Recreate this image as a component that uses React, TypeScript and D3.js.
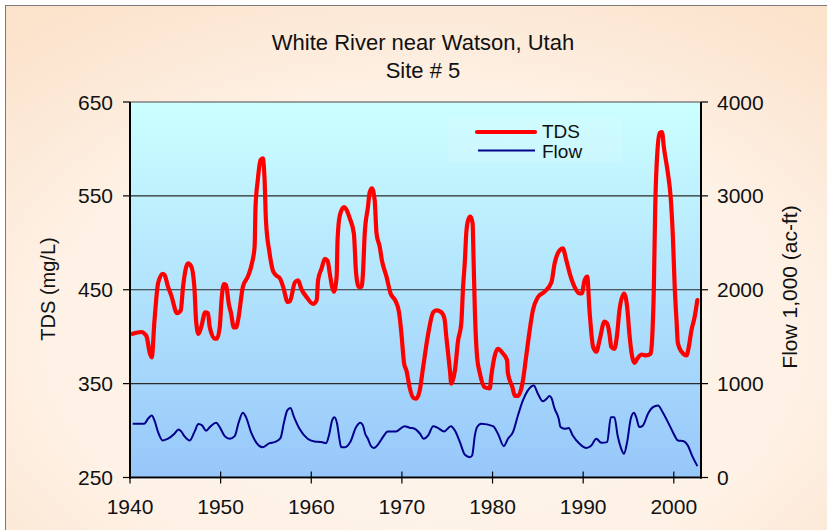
import React from "react";
import * as d3 from "d3";

const titleLines = ["White River near Watson, Utah", "Site # 5"];
const leftTicks = [250, 350, 450, 550, 650];
const rightTicks = [0, 1000, 2000, 3000, 4000];
const yearTicks = [1940, 1950, 1960, 1970, 1980, 1990, 2000];
const seriesNames = ["TDS", "Flow"];
const leftTitle = "TDS (mg/L)";
const rightTitle = "Flow 1,000 (ac-ft)";

const tdsYears = [
  1940.3, 1941.25, 1941.8, 1942.2, 1942.4, 1942.7, 1943.1, 1943.6, 1943.8, 1944.2, 1944.55, 1945.2, 1945.6, 1945.85,
  1946.4, 1946.75, 1947.1, 1947.3, 1947.55, 1947.85, 1948.3, 1948.6, 1948.8, 1949.35, 1949.6, 1949.9, 1950.1, 1950.35,
  1950.6, 1950.9, 1951.15, 1951.45, 1951.7, 1951.95, 1952.45, 1953.0, 1953.45, 1953.75, 1953.85, 1954.1, 1954.4, 1954.65,
  1954.85, 1955.0, 1955.4, 1955.75, 1956.05, 1956.55, 1956.9, 1957.4, 1957.65, 1958.2, 1958.55, 1958.9, 1959.5, 1960.2,
  1960.6, 1960.75, 1961.15, 1961.5, 1961.8, 1962.05, 1962.3, 1962.5, 1962.8, 1962.9, 1963.15, 1963.6, 1963.9, 1964.25,
  1964.7, 1964.95, 1965.25, 1965.55, 1965.7, 1965.9, 1966.25, 1966.45, 1966.7, 1967.0, 1967.2, 1967.55, 1967.8, 1968.3,
  1968.75, 1969.3, 1969.7, 1969.95, 1970.25, 1970.5, 1970.85, 1971.25, 1971.6, 1971.95, 1972.35, 1972.9, 1973.45, 1973.8,
  1974.35, 1974.7, 1974.9, 1975.3, 1975.45, 1975.85, 1976.2, 1976.55, 1976.75, 1976.95, 1977.1, 1977.3, 1977.55, 1977.8,
  1977.9, 1978.05, 1978.3, 1978.6, 1979.15, 1979.7, 1979.85, 1980.25, 1980.6, 1981.15, 1981.6, 1981.7, 1982.2, 1982.45,
  1982.8, 1983.35, 1983.7, 1984.1, 1984.45, 1985.0, 1985.75, 1986.5, 1986.85, 1987.4, 1987.75, 1988.15, 1988.5, 1989.05,
  1989.6, 1989.85, 1990.15, 1990.45, 1990.7, 1991.1, 1991.45, 1991.8, 1992.35, 1992.65, 1992.9, 1993.1, 1993.45, 1993.75,
  1994.0, 1994.5, 1994.85, 1995.1, 1995.35, 1995.65, 1996.0, 1996.45, 1996.95, 1997.45, 1997.6, 1997.8, 1997.95, 1998.2,
  1998.45, 1998.7, 1998.9, 1999.35, 1999.65, 1999.9, 2000.1, 2000.3, 2000.45, 2000.85, 2001.4, 2001.65, 2001.95, 2002.3,
  2002.6,
];
const tdsValues = [
  403, 405, 401, 382, 378, 417, 457, 467, 466, 453, 444, 425, 428, 453,
  478, 475, 453, 416, 403, 410, 426, 425, 410, 398, 398, 410, 439, 456,
  455, 435, 425, 410, 410, 419, 453, 464, 478, 496, 538, 567, 588, 590,
  567, 524, 489, 471, 466, 462, 453, 437, 438, 458, 460, 451, 442, 435,
  439, 460, 473, 483, 481, 467, 453, 448, 464, 503, 529, 538, 535, 526,
  510, 467, 453, 453, 467, 510, 538, 554, 558, 545, 510, 496, 481, 464,
  446, 438, 425, 403, 371, 364, 346, 335, 334, 342, 368, 403, 426, 428,
  426, 419, 400, 364, 350, 364, 396, 414, 453, 481, 510, 524, 528, 521,
  485, 428, 378, 361, 346, 345, 357, 380, 387, 382, 375, 361, 346, 337,
  337, 353, 378, 407, 428, 442, 448, 458, 478, 492, 494, 481, 468, 453,
  446, 446, 460, 464, 428, 389, 384, 396, 416, 414, 403, 389, 387, 403,
  428, 446, 432, 403, 382, 372, 377, 381, 380, 382, 396, 453, 538, 599,
  617, 618, 602, 574, 549, 506, 453, 417, 393, 384, 380, 389, 407, 421,
  439,
];

const flowYears = [
  1940.3, 1941.55, 1942.05, 1942.4, 1942.7, 1943.1, 1943.6, 1944.2, 1944.9, 1945.35, 1945.65, 1946.0, 1946.6, 1947.1,
  1947.55, 1947.95, 1948.4, 1948.9, 1949.5, 1949.9, 1950.45, 1951.0, 1951.55, 1952.0, 1952.45, 1952.8, 1953.35, 1953.9,
  1954.65, 1955.4, 1955.95, 1956.6, 1957.0, 1957.35, 1957.7, 1958.1, 1958.7, 1959.6, 1960.35, 1961.1, 1961.65, 1961.95,
  1962.3, 1962.55, 1962.85, 1963.1, 1963.3, 1963.75, 1964.3, 1964.95, 1965.4, 1965.7, 1965.95, 1966.25, 1966.55, 1966.9,
  1967.55, 1967.9, 1968.45, 1969.35, 1970.3, 1970.85, 1971.4, 1972.0, 1972.4, 1972.9, 1973.45, 1974.0, 1974.65, 1975.4,
  1975.85, 1976.4, 1976.95, 1977.5, 1977.75, 1978.05, 1978.3, 1978.75, 1980.05, 1980.6, 1981.25, 1981.7, 1982.25, 1982.8,
  1983.35, 1983.9, 1984.55, 1985.0, 1985.55, 1985.9, 1986.3, 1986.5, 1986.85, 1987.3, 1987.5, 1987.95, 1988.4, 1988.85,
  1989.6, 1990.35, 1990.9, 1991.45, 1992.0, 1992.65, 1993.05, 1993.45, 1993.8, 1994.2, 1994.5, 1994.85, 1995.25, 1995.6,
  1995.85, 1996.2, 1996.6, 1997.15, 1997.7, 1998.25, 1998.8, 1999.35, 1999.9, 2000.45, 2001.1, 2001.55, 2002.0, 2002.6,
];
const flowValues = [
  573, 573, 633, 661, 608, 483, 395, 413, 466, 512, 491, 441, 395, 483,
  569, 555, 498, 547, 583, 537, 441, 413, 441, 590, 690, 643, 483, 377,
  323, 366, 377, 420, 590, 715, 740, 643, 519, 413, 384, 377, 366, 448,
  608, 643, 573, 413, 323, 323, 377, 537, 583, 555, 466, 413, 341, 313,
  377, 430, 491, 491, 547, 530, 519, 466, 413, 448, 547, 526, 491, 547,
  501, 377, 242, 217, 235, 448, 537, 573, 547, 466, 334, 413, 483, 661,
  821, 928, 981, 893, 811, 832, 867, 846, 733, 626, 537, 519, 526, 448,
  359, 313, 341, 413, 370, 377, 643, 643, 448, 306, 253, 377, 626, 690,
  643, 537, 555, 679, 750, 768, 690, 590, 483, 395, 387, 341, 235, 121,
];

const W = 827;
const H = 530;
const plot = { left: 130, right: 701, top: 102, bottom: 477.5 };
const FONT = "'Liberation Sans', Arial, sans-serif";

export default function App() {
  const x = d3.scaleLinear().domain([1940, 2003]).range([plot.left, plot.right]);
  const yL = d3.scaleLinear().domain([250, 650]).range([plot.bottom, plot.top]);
  const yR = d3.scaleLinear().domain([0, 4000]).range([plot.bottom, plot.top]);

  const tdsLine = d3
    .line<number>()
    .x((_, i) => x(tdsYears[i]))
    .y((v) => yL(v))
    .curve(d3.curveMonotoneX)(tdsValues) as string;
  const flowLine = d3
    .line<number>()
    .x((_, i) => x(flowYears[i]))
    .y((v) => yR(v))
    .curve(d3.curveMonotoneX)(flowValues) as string;

  return (
    <svg
      width={W}
      height={H}
      style={{ position: "absolute", left: 0, top: 0, fontFamily: FONT }}
    >
      <defs>
        <radialGradient id="bgGrad" cx="50%" cy="62%" r="75%">
          <stop offset="0%" stopColor="#FFF7F0" />
          <stop offset="60%" stopColor="#FEF1E5" />
          <stop offset="100%" stopColor="#FBE2CB" />
        </radialGradient>
        <linearGradient id="plotGrad" x1="0" y1="0" x2="0" y2="1">
          <stop offset="0%" stopColor="#CCFFFF" />
          <stop offset="100%" stopColor="#97C7FA" />
        </linearGradient>
      </defs>
      <rect x={0} y={0} width={W} height={H} fill="#FFFFFF" />
      <rect x={5.5} y={5.5} width={W + 10} height={H + 10} fill="url(#bgGrad)" stroke="#7A7A7A" strokeWidth={1} />

      {titleLines.map((t, i) => (
        <text key={t} x={423} y={50 + i * 28} textAnchor="middle" fontSize={22} fill="#111">
          {t}
        </text>
      ))}

      <rect
        x={plot.left}
        y={plot.top}
        width={plot.right - plot.left}
        height={plot.bottom - plot.top}
        fill="url(#plotGrad)"
      />

      {leftTicks.slice(1, -1).map((t) => (
        <line key={t} x1={plot.left} x2={plot.right} y1={yL(t)} y2={yL(t)} stroke="#2A2A2A" strokeWidth={1.2} />
      ))}
      <line x1={plot.left} x2={plot.right} y1={plot.top} y2={plot.top} stroke="#808080" strokeWidth={1.5} />

      <path d={flowLine} fill="none" stroke="#00008B" strokeWidth={2} strokeLinejoin="round" />
      <path d={tdsLine} fill="none" stroke="#FF0000" strokeWidth={4.2} strokeLinejoin="round" strokeLinecap="round" />

      {/* axes */}
      <line x1={plot.left} x2={plot.left} y1={plot.top} y2={plot.bottom + 1} stroke="#000" strokeWidth={2} />
      <line x1={plot.right} x2={plot.right} y1={plot.top} y2={plot.bottom + 1} stroke="#000" strokeWidth={2} />
      <line x1={plot.left - 1} x2={plot.right + 1} y1={plot.bottom} y2={plot.bottom} stroke="#000" strokeWidth={2} />
      <line x1={plot.left + 1} x2={plot.right - 1} y1={plot.bottom + 1.8} y2={plot.bottom + 1.8} stroke="#FFFFFF" strokeWidth={1} opacity={0.8} />

      {leftTicks.map((t) => (
        <g key={t}>
          <line x1={plot.left - 7} x2={plot.left} y1={yL(t)} y2={yL(t)} stroke="#000" strokeWidth={1.2} />
          <text x={113} y={yL(t)} dy="0.36em" textAnchor="end" fontSize={21} fill="#111">
            {t}
          </text>
        </g>
      ))}
      {rightTicks.map((t) => (
        <g key={t}>
          <line x1={plot.right} x2={plot.right + 7} y1={yR(t)} y2={yR(t)} stroke="#000" strokeWidth={1.2} />
          <text x={717} y={yR(t)} dy="0.36em" textAnchor="start" fontSize={21} fill="#111">
            {t}
          </text>
        </g>
      ))}
      {yearTicks.map((t) => (
        <g key={t}>
          <line x1={x(t)} x2={x(t)} y1={plot.bottom - 6} y2={plot.bottom + 6} stroke="#000" strokeWidth={1.2} />
          <text x={x(t)} y={514} textAnchor="middle" fontSize={21} fill="#111">
            {t}
          </text>
        </g>
      ))}

      <text transform="translate(55,289) rotate(-90)" textAnchor="middle" fontSize={20} fill="#111">
        {leftTitle}
      </text>
      <text transform="translate(797,287) rotate(-90)" textAnchor="middle" fontSize={21} fill="#111">
        {rightTitle}
      </text>

      {/* legend */}
      <rect x={448} y={117} width={174} height={45} fill="#FFFFFF" opacity={0.12} />
      <line x1={477} x2={535} y1={132} y2={132} stroke="#FF0000" strokeWidth={4.2} strokeLinecap="round" />
      <line x1={478} x2={535} y1={150.5} y2={150.5} stroke="#00008B" strokeWidth={2} />
      <text x={542} y={131.5} dy="0.36em" fontSize={19} fill="#111">
        {seriesNames[0]}
      </text>
      <text x={542} y={151} dy="0.36em" fontSize={19} fill="#111">
        {seriesNames[1]}
      </text>
    </svg>
  );
}
